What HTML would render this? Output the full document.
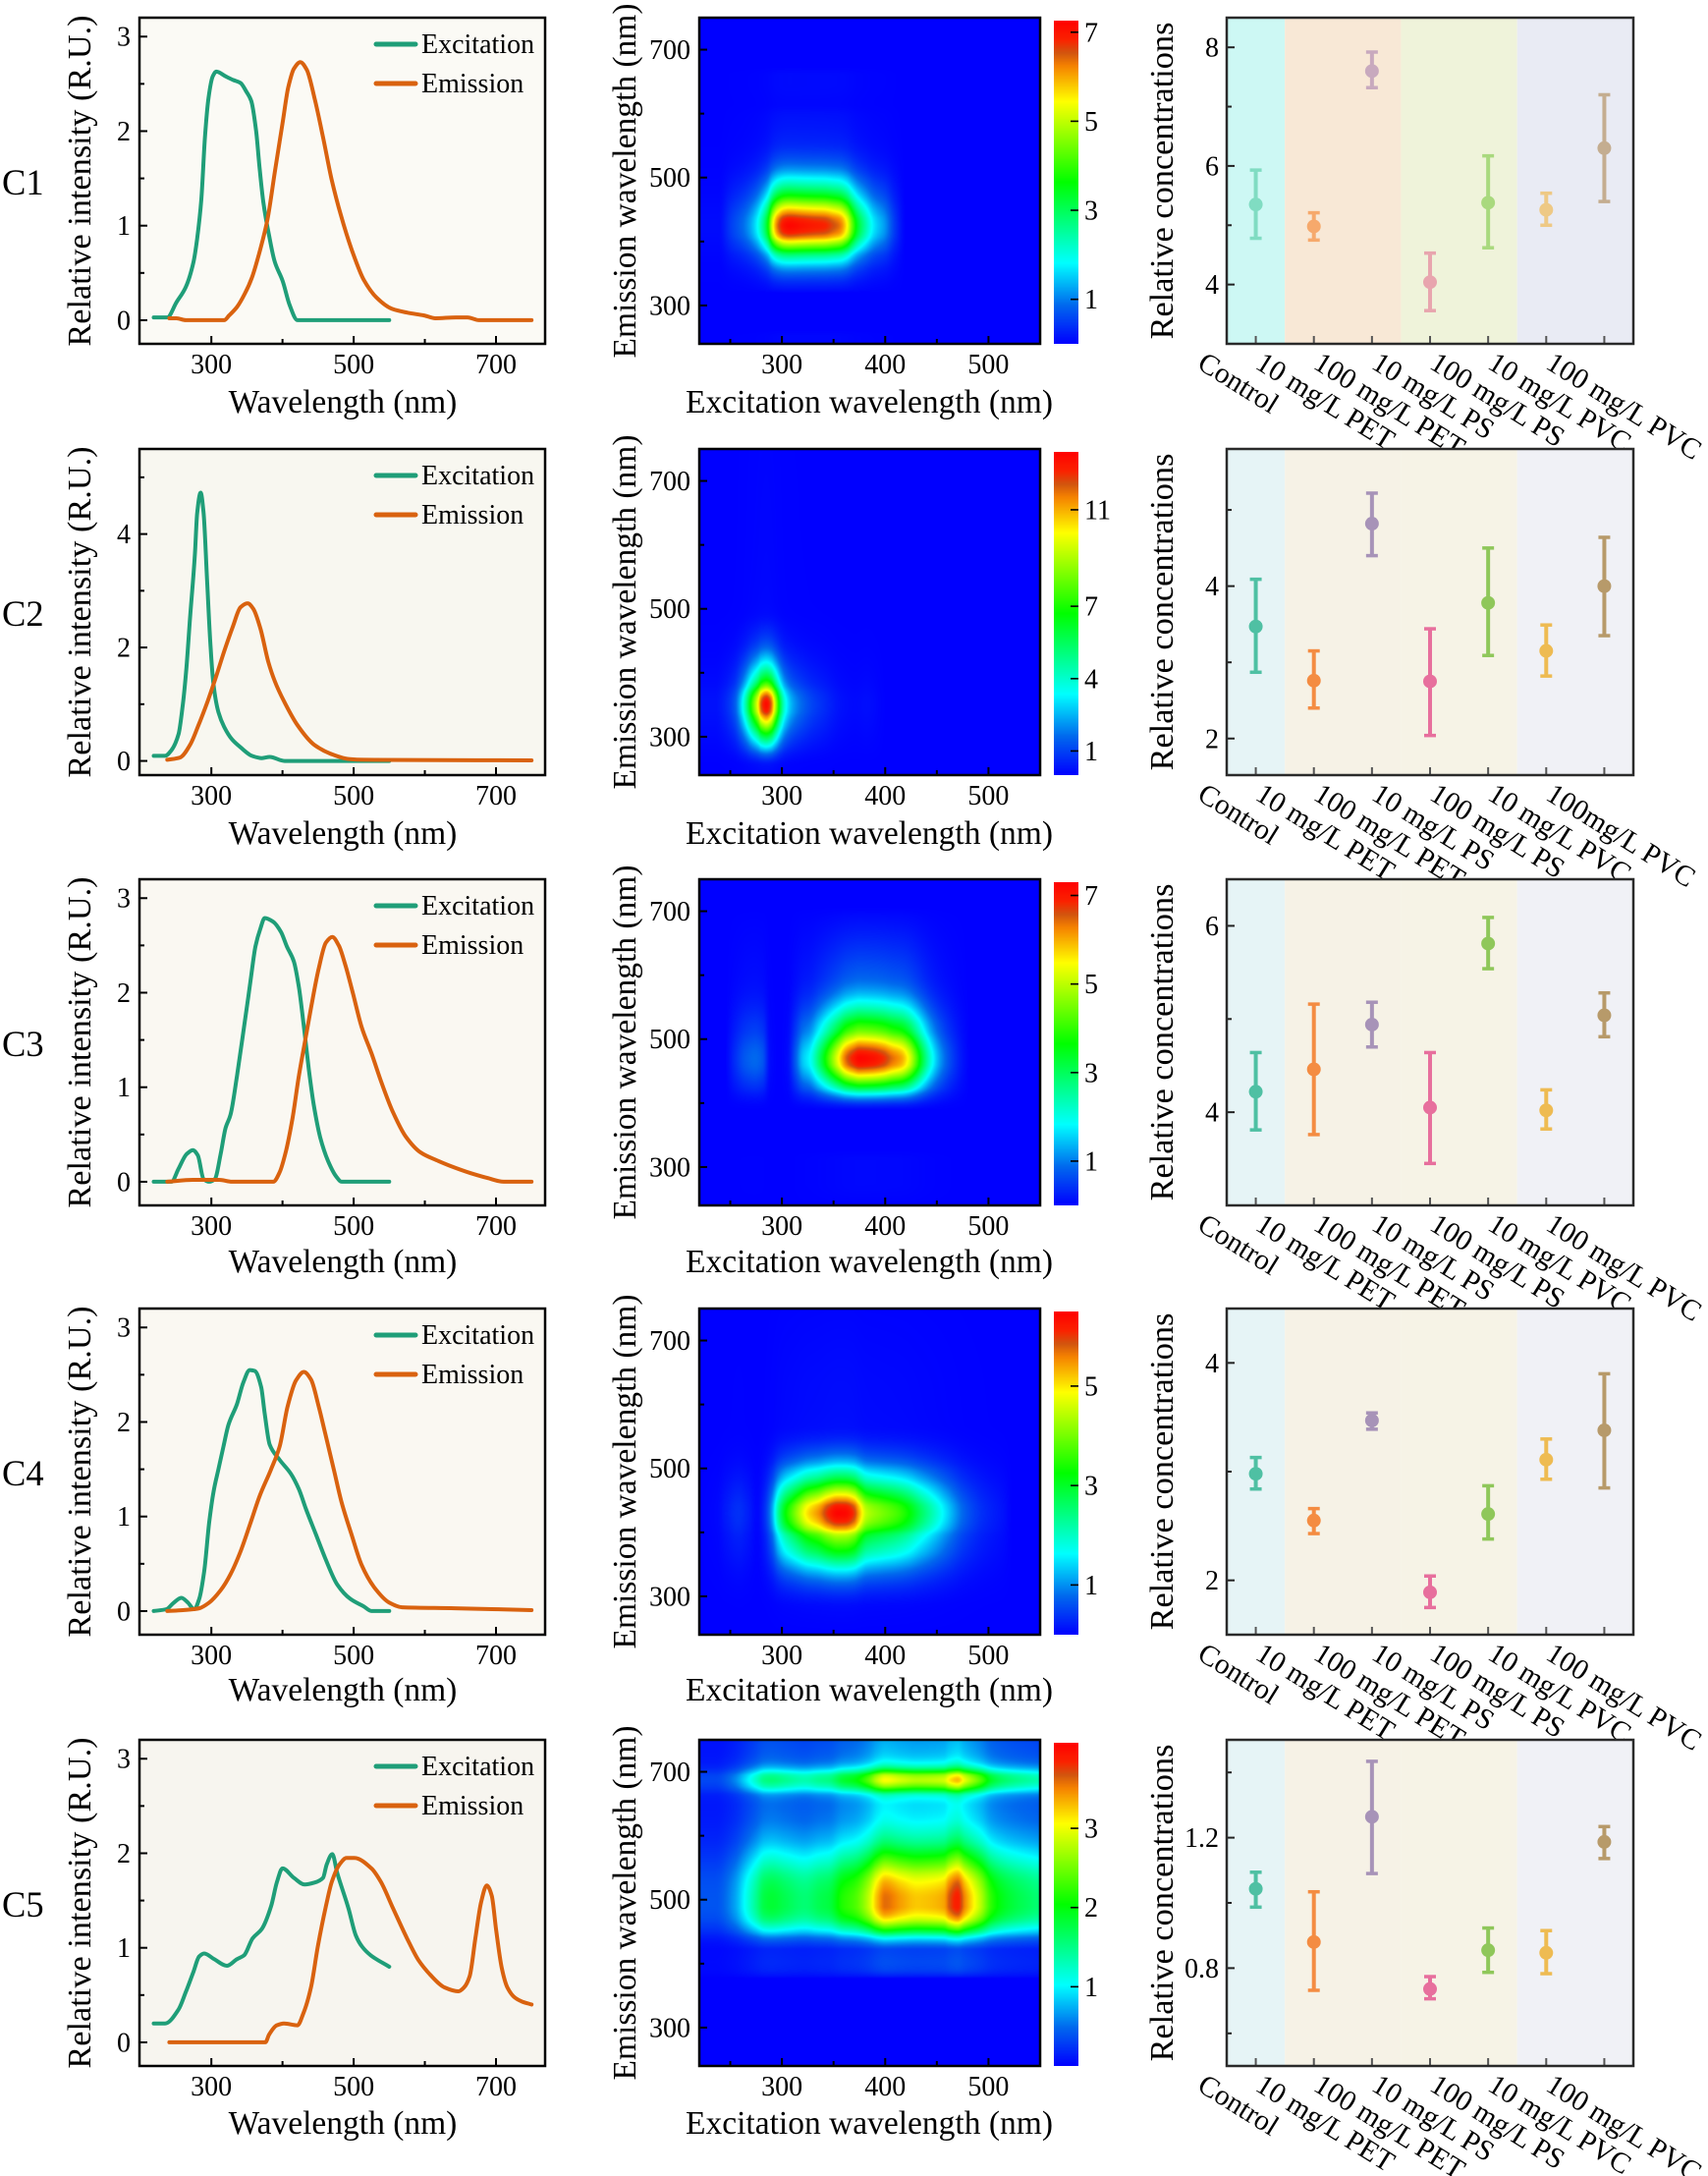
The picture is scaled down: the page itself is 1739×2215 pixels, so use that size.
<!DOCTYPE html>
<html lang="en">
<head>
<meta charset="utf-8">
<title>Fluorescence components C1 to C5</title>
<style>
html,body{margin:0;padding:0;background:#fff;}
#stage{position:relative;width:1739px;height:2215px;overflow:hidden;background:#fff;}
#stage canvas{position:absolute;display:block;}
#figure{position:absolute;left:0;top:0;}
text{font-family:"Liberation Serif",serif;fill:#000;}
.title{font-size:33.5px;}
.title-wide{font-size:34.3px;}
.legend{font-size:28px;}
.row-label{font-size:36.5px;}
.mid{text-anchor:middle;}
</style>
</head>
<body>
<div id="stage">
<svg id="figure" width="1739" height="2215" viewBox="0 0 1739 2215" xmlns="http://www.w3.org/2000/svg">
  <g id="row-c1" transform="translate(0,18)">
    <g id="marks-c1"></g>
    <text class="row-label" x="2" y="180">C1</text>
    <text class="title-wide" transform="translate(92,166) rotate(-90)" text-anchor="middle">Relative intensity (R.U.)</text>
    <text class="title mid" x="349" y="402">Wavelength (nm)</text>
    <text class="legend" x="429" y="36">Excitation</text>
    <text class="legend" x="429" y="76">Emission</text>
    <text class="title" transform="translate(647,166) rotate(-90)" text-anchor="middle">Emission wavelength (nm)</text>
    <text class="title mid" x="885" y="402">Excitation wavelength (nm)</text>
    <text class="title-wide" transform="translate(1194,166) rotate(-90)" text-anchor="middle">Relative concentrations</text>
  </g>
  <g id="row-c2" transform="translate(0,457)">
    <g id="marks-c2"></g>
    <text class="row-label" x="2" y="180">C2</text>
    <text class="title-wide" transform="translate(92,166) rotate(-90)" text-anchor="middle">Relative intensity (R.U.)</text>
    <text class="title mid" x="349" y="402">Wavelength (nm)</text>
    <text class="legend" x="429" y="36">Excitation</text>
    <text class="legend" x="429" y="76">Emission</text>
    <text class="title" transform="translate(647,166) rotate(-90)" text-anchor="middle">Emission wavelength (nm)</text>
    <text class="title mid" x="885" y="402">Excitation wavelength (nm)</text>
    <text class="title-wide" transform="translate(1194,166) rotate(-90)" text-anchor="middle">Relative concentrations</text>
  </g>
  <g id="row-c3" transform="translate(0,895)">
    <g id="marks-c3"></g>
    <text class="row-label" x="2" y="180">C3</text>
    <text class="title-wide" transform="translate(92,166) rotate(-90)" text-anchor="middle">Relative intensity (R.U.)</text>
    <text class="title mid" x="349" y="400">Wavelength (nm)</text>
    <text class="legend" x="429" y="36">Excitation</text>
    <text class="legend" x="429" y="76">Emission</text>
    <text class="title" transform="translate(647,166) rotate(-90)" text-anchor="middle">Emission wavelength (nm)</text>
    <text class="title mid" x="885" y="400">Excitation wavelength (nm)</text>
    <text class="title-wide" transform="translate(1194,166) rotate(-90)" text-anchor="middle">Relative concentrations</text>
  </g>
  <g id="row-c4" transform="translate(0,1332)">
    <g id="marks-c4"></g>
    <text class="row-label" x="2" y="180">C4</text>
    <text class="title-wide" transform="translate(92,166) rotate(-90)" text-anchor="middle">Relative intensity (R.U.)</text>
    <text class="title mid" x="349" y="399">Wavelength (nm)</text>
    <text class="legend" x="429" y="36">Excitation</text>
    <text class="legend" x="429" y="76">Emission</text>
    <text class="title" transform="translate(647,166) rotate(-90)" text-anchor="middle">Emission wavelength (nm)</text>
    <text class="title mid" x="885" y="399">Excitation wavelength (nm)</text>
    <text class="title-wide" transform="translate(1194,166) rotate(-90)" text-anchor="middle">Relative concentrations</text>
  </g>
  <g id="row-c5" transform="translate(0,1771)">
    <g id="marks-c5"></g>
    <text class="row-label" x="2" y="180">C5</text>
    <text class="title-wide" transform="translate(92,166) rotate(-90)" text-anchor="middle">Relative intensity (R.U.)</text>
    <text class="title mid" x="349" y="401">Wavelength (nm)</text>
    <text class="legend" x="429" y="36">Excitation</text>
    <text class="legend" x="429" y="76">Emission</text>
    <text class="title" transform="translate(647,166) rotate(-90)" text-anchor="middle">Emission wavelength (nm)</text>
    <text class="title mid" x="885" y="401">Excitation wavelength (nm)</text>
    <text class="title-wide" transform="translate(1194,166) rotate(-90)" text-anchor="middle">Relative concentrations</text>
  </g>
</svg>
</div>
<script>
// ---------- spectral loadings (wavelength in nm, relative intensity) ----------
const exWaveC1 = [219,238,251,264,275,280,286,291,296,302,307,320,331,341,349,356,363,368,373,381,389,400,410,421,550];
const exValueC1 = [.03,.03,.19,.35,.62,.86,1.28,1.94,2.35,2.58,2.63,2.58,2.54,2.51,2.42,2.32,2.0,1.59,1.25,.9,.62,.42,.16,0,0];
const emWaveC1 = [241,251,264,318,325,336,347,357,368,379,389,400,408,416,425,434,445,456,469,482,498,514,532,554,575,599,615,644,660,676,750];
const emValueC1 = [.02,.02,0,0,.05,.14,.28,.45,.73,1.07,1.56,2.08,2.46,2.66,2.73,2.65,2.35,1.97,1.49,1.11,.73,.43,.24,.12,.08,.05,.02,.03,.03,0,0];

const exWaveC2 = [219,235,244,254,260,265,270,277,280,285,289,294,299,303,310,318,329,341,357,371,382,403,550];
const exValueC2 = [.09,.09,.19,.48,1.0,1.64,2.5,3.66,4.36,4.73,4.39,3.2,1.99,1.35,.86,.6,.38,.24,.09,.05,.07,0,0];
const emWaveC2 = [238,256,270,281,295,306,318,330,341,351,359,369,380,389,403,421,445,467,495,514,750];
const emValueC2 = [.02,.06,.28,.6,1.06,1.46,1.93,2.36,2.71,2.78,2.68,2.33,1.75,1.41,1.03,.63,.28,.13,.03,.02,.01];

const exWaveC3 = [219,244,254,265,274,281,289,297,305,313,320,327,336,346,355,362,369,375,387,398,406,416,423,430,437,444,453,464,476,483,550];
const exValueC3 = [0,0,.14,.29,.335,.28,.03,0,.03,.29,.57,.71,1.12,1.64,2.12,2.49,2.68,2.79,2.75,2.64,2.49,2.33,2.06,1.64,1.19,.81,.47,.22,.05,0,0];
const emWaveC3 = [238,274,311,329,387,396,405,414,423,433,442,451,461,470,479,488,499,511,525,539,555,573,594,619,635,665,688,711,750];
const emValueC3 = [0,.02,.02,0,0,.10,.33,.67,1.12,1.54,1.92,2.26,2.53,2.59,2.50,2.30,1.99,1.64,1.36,1.05,.74,.48,.31,.22,.17,.09,.04,0,0];

const exWaveC4 = [219,237,246,258,267,276,283,290,297,303,310,317,324,336,345,354,361,370,375,382,396,412,423,433,447,460,477,495,514,525,550];
const exValueC4 = [0,.02,.08,.14,.09,.02,.13,.42,.94,1.26,1.5,1.74,1.97,2.19,2.42,2.55,2.54,2.37,2.09,1.76,1.6,1.45,1.29,1.08,.81,.56,.28,.13,.05,0,0];
const emWaveC4 = [238,260,283,297,313,327,341,354,368,384,396,407,419,430,440,451,460,472,483,497,511,529,550,568,642,750];
const emValueC4 = [0,.01,.03,.09,.22,.39,.63,.91,1.22,1.5,1.74,2.16,2.44,2.53,2.45,2.16,1.88,1.5,1.15,.81,.49,.25,.09,.04,.03,.01];

const exWaveC5 = [219,235,254,264,275,283,290,304,322,336,346,358,371,384,392,400,416,431,445,457,462,470,477,493,503,512,524,550];
const exValueC5 = [.2,.2,.35,.53,.75,.91,.94,.88,.81,.88,.92,1.1,1.2,1.44,1.69,1.84,1.74,1.67,1.69,1.74,1.88,1.99,1.79,1.41,1.13,1.01,.92,.8];
const emWaveC5 = [241,376,381,392,402,421,429,440,450,461,469,480,490,501,525,538,554,575,591,607,628,647,655,663,671,679,687,694,700,708,716,727,737,750];
const emValueC5 = [0,0,.08,.18,.2,.18,.3,.58,1.03,1.44,1.69,1.88,1.95,1.95,1.84,1.70,1.44,1.1,.87,.72,.58,.54,.58,.7,1.1,1.48,1.66,1.55,1.2,.79,.58,.47,.43,.4];

// ---------- axis tick labels ----------
const wavelengthTicks = [300,500,700];
const wavelengthMinorTicks = [400,600];
const excitationTicks = [300,400,500];
const excitationMinorTicks = [250,350,450];
const emissionTicks = [300,500,700];
const emissionMinorTicks = [400,600];
const intensityTicksC1 = [0,1,2,3];
const intensityMinorC1 = [.5,1.5,2.5];
const intensityTicksC2 = [0,2,4];
const intensityMinorC2 = [1,3,5];
const colorbarTicksC1 = [1,3,5,7];
const colorbarTicksC2 = [1,4,7,11];
const colorbarTicksC3 = [1,3,5,7];
const colorbarTicksC4 = [1,3,5];
const colorbarTicksC5 = [1,2,3];
const concTicksC1 = [4,6,8];
const concMinorC1 = [5,7];
const concTicksC2 = [2,4];
const concMinorC2 = [3,5];
const concTicksC3 = [4,6];
const concMinorC3 = [5];
const concTicksC4 = [2,4];
const concMinorC4 = [3];
const concTicksC5 = [.8,1.2];
const concMinorC5 = [.6,1.0,1.4];

// ---------- categories and concentrations ----------
const categories = ["Control","10 mg/L PET","100 mg/L PET","10 mg/L PS","100 mg/L PS","10 mg/L PVC","100 mg/L PVC"];
const categoriesC2 = ["Control","10 mg/L PET","100 mg/L PET","10 mg/L PS","100 mg/L PS","10 mg/L PVC","100mg/L PVC"];
const concMeanC1 = [5.35,4.98,7.6,4.04,5.38,5.26,6.3];
const concUpperC1 = [5.93,5.21,7.92,4.53,6.17,5.54,7.2];
const concLowerC1 = [4.78,4.75,7.32,3.56,4.62,5.0,5.4];
const concMeanC2 = [3.47,2.76,4.82,2.75,3.78,3.15,4.0];
const concUpperC2 = [4.09,3.15,5.22,3.44,4.5,3.49,4.64];
const concLowerC2 = [2.87,2.40,4.40,2.04,3.09,2.82,3.35];
const concMeanC3 = [4.22,4.46,4.94,4.05,5.81,4.02,5.04];
const concUpperC3 = [4.64,5.16,5.18,4.64,6.09,4.24,5.28];
const concLowerC3 = [3.81,3.76,4.70,3.45,5.54,3.82,4.81];
const concMeanC4 = [2.98,2.55,3.47,1.89,2.61,3.11,3.38];
const concUpperC4 = [3.13,2.66,3.54,2.04,2.87,3.30,3.90];
const concLowerC4 = [2.84,2.43,3.39,1.75,2.38,2.93,2.85];
const concMeanC5 = [1.043,.88,1.264,.736,.855,.847,1.187];
const concUpperC5 = [1.094,1.034,1.434,.774,.923,.915,1.234];
const concLowerC5 = [.987,.732,1.09,.706,.787,.783,1.136];

// ---------- layout and styling ----------
const NS = 'http://www.w3.org/2000/svg';
const H = 332;
const SP = {l:142, r:555, xd:[199,769]};
const HM = {l:712, r:1059, xd:[220,550], yd:[240,750]};
const CB = {l:1073, r:1098, t:3};
const CN = {l:1249, r:1663, xd:[-.5,6.5]};
const EX_COLOR = '#1f9e78';
const EM_COLOR = '#d9620f';
const paletteFaded = ['#80dcc2','#f6a96c','#c8a9be','#e8a5ae','#a9d97e','#eec985','#c4ad90'];
const paletteStrong = ['#4fc0a3','#f48c42','#a793b8','#e76f9d','#8fc75a','#eebb52','#b79a6a'];
const bandsFaded = ['#cdf8f4','#f8e8d6','#eff3da','#e9ebf4'];
const bandsStrong = ['#e6f4f6','#f6f2e6','#f6f3e6','#f0f1f6'];
const bandEdges = [-.5,.5,2.5,4.5,6.5];

function linear(d, r) {
  return function (v) { return r[0] + (v - d[0]) * (r[1] - r[0]) / (d[1] - d[0]); };
}
// monotone cubic tangents so the curve passes through every read value without overshoot
function tangents(xs, ys) {
  const n = xs.length, s = [], m = [];
  for (let i = 0; i < n - 1; i++) s.push((ys[i+1] - ys[i]) / (xs[i+1] - xs[i]));
  m.push(s[0]);
  for (let i = 1; i < n - 1; i++) {
    if (s[i-1] * s[i] <= 0) { m.push(0); continue; }
    const w1 = 2 * (xs[i+1] - xs[i]) + (xs[i] - xs[i-1]);
    const w2 = (xs[i+1] - xs[i]) + 2 * (xs[i] - xs[i-1]);
    m.push((w1 + w2) / (w1 / s[i-1] + w2 / s[i]));
  }
  m.push(s[n-2]);
  return m;
}
function curveFn(xs, ys) {
  const m = tangents(xs, ys);
  return function (x) {
    if (x <= xs[0]) return ys[0];
    if (x >= xs[xs.length-1]) return ys[ys.length-1];
    let i = 1;
    while (x > xs[i]) i++;
    const h = xs[i] - xs[i-1], t = (x - xs[i-1]) / h, t2 = t * t, t3 = t2 * t;
    return (2*t3 - 3*t2 + 1) * ys[i-1] + (t3 - 2*t2 + t) * h * m[i-1] + (-2*t3 + 3*t2) * ys[i] + (t3 - t2) * h * m[i];
  };
}
function curvePath(xs, ys, x, y) {
  const m = tangents(xs, ys);
  let d = 'M' + x(xs[0]).toFixed(1) + ' ' + y(ys[0]).toFixed(1);
  for (let i = 1; i < xs.length; i++) {
    const h = (xs[i] - xs[i-1]) / 3;
    d += 'C' + x(xs[i-1] + h).toFixed(1) + ' ' + y(ys[i-1] + m[i-1] * h).toFixed(1) + ' ' +
         x(xs[i] - h).toFixed(1) + ' ' + y(ys[i] - m[i] * h).toFixed(1) + ' ' +
         x(xs[i]).toFixed(1) + ' ' + y(ys[i]).toFixed(1);
  }
  return d;
}
function shape(tag, parent, attrs) {
  const el = document.createElementNS(NS, tag);
  for (const k in attrs) el.setAttribute(k, attrs[k]);
  parent.appendChild(el);
  return el;
}
function addTick(parent, x1, y1, x2, y2, color, width) {
  const el = shape('line', parent, {x1:x1, y1:y1, x2:x2, y2:y2, stroke:color, 'stroke-width':width});
  
  
  return el;
}
function addLabel(parent, x, y, str, anchor, size) {
  const el = shape('text', parent, {x:x, y:y, 'text-anchor':anchor, 'font-size':size});
  el.textContent = str;
  
  
  return el;
}
function addFrame(parent, x, w, color, name) {
  const el = shape('rect', parent, {x:x, y:0, width:w, height:H, fill:'none', stroke:color, 'stroke-width':2.5});
  
  
  return el;
}
function colormap(t) {
  const s = [[0,0,0,255],[.12,0,105,238],[.25,0,255,255],[.5,0,255,0],[.75,255,255,0],[.86,245,130,0],[.9,210,85,15],[.94,250,35,0],[1,255,0,0]];
  t = Math.max(0, Math.min(1, t));
  for (let i = 1; i < s.length; i++) {
    if (t <= s[i][0]) {
      const f = (t - s[i-1][0]) / (s[i][0] - s[i-1][0]);
      return [0,1,2].map(function (c) { return s[i-1][c+1] + f * (s[i][c+1] - s[i-1][c+1]); });
    }
  }
  return [255,0,0];
}

function drawSpectrum(g, exW, exV, emW, emV, yd, ticks, minor, bg) {
  const x = linear(SP.xd, [SP.l, SP.r]);
  const y = linear(yd, [H, 0]);
  const panel = shape('rect', g, {x:SP.l, y:0, width:SP.r-SP.l, height:H, fill:bg});
  
  
  wavelengthTicks.forEach(function (v) {
    addTick(g, x(v), H, x(v), H-8, '#000', 2);
    addLabel(g, x(v), H+30, String(v), 'middle', 28);
  });
  wavelengthMinorTicks.forEach(function (v) { addTick(g, x(v), H, x(v), H-5, '#000', 2); });
  ticks.forEach(function (v) {
    addTick(g, SP.l, y(v), SP.l+8, y(v), '#000', 2);
    addLabel(g, 133, y(v)+9.5, String(v), 'end', 28);
  });
  minor.forEach(function (v) { addTick(g, SP.l, y(v), SP.l+5, y(v), '#000', 2); });
  const ex = shape('path', g, {d:curvePath(exW, exV, x, y), fill:'none', stroke:EX_COLOR, 'stroke-width':4, 'stroke-linejoin':'round', 'stroke-linecap':'round'});
  
  
  const em = shape('path', g, {d:curvePath(emW, emV, x, y), fill:'none', stroke:EM_COLOR, 'stroke-width':4, 'stroke-linejoin':'round', 'stroke-linecap':'round'});
  
  
  const k1 = shape('line', g, {x1:383, x2:423, y1:27, y2:27, stroke:EX_COLOR, 'stroke-width':5, 'stroke-linecap':'round'});
  
  
  const k2 = shape('line', g, {x1:383, x2:423, y1:67, y2:67, stroke:EM_COLOR, 'stroke-width':5, 'stroke-linecap':'round'});
  
  
  addFrame(g, SP.l, SP.r-SP.l, '#000', 'spectrum-frame');
}

function drawHeatmap(g, top, exW, exV, emW, emV, vmax, cbTicks) {
  const stage = document.getElementById('stage');
  const w = HM.r - HM.l;
  const cv = document.createElement('canvas');
  cv.width = w; cv.height = H;
  cv.style.left = HM.l + 'px'; cv.style.top = top + 'px';
  
  
  stage.insertBefore(cv, stage.firstChild);
  const ctx = cv.getContext('2d');
  const img = ctx.createImageData(w, H);
  const xInv = linear([HM.l, HM.r], HM.xd);
  const yInv = linear([H, 0], HM.yd);
  const exFn = curveFn(exW, exV), emFn = curveFn(emW, emV);
  const exCol = [], emRow = [];
  for (let i = 0; i < w; i++) exCol.push(exFn(xInv(HM.l + i + .5)));
  for (let j = 0; j < H; j++) emRow.push(emFn(yInv(j + .5)));
  for (let j = 0; j < H; j++) {
    for (let i = 0; i < w; i++) {
      const c = colormap(exCol[i] * emRow[j] / vmax);
      const p = (j * w + i) * 4;
      img.data[p] = c[0]; img.data[p+1] = c[1]; img.data[p+2] = c[2]; img.data[p+3] = 255;
    }
  }
  ctx.putImageData(img, 0, 0);

  const x = linear(HM.xd, [HM.l, HM.r]);
  const y = linear(HM.yd, [H, 0]);
  excitationTicks.forEach(function (v) {
    addTick(g, x(v), H, x(v), H-8, '#000', 2);
    addLabel(g, x(v), H+30, String(v), 'middle', 28);
  });
  excitationMinorTicks.forEach(function (v) { addTick(g, x(v), H, x(v), H-5, '#000', 2); });
  emissionTicks.forEach(function (v) {
    addTick(g, HM.l, y(v), HM.l+8, y(v), '#000', 2);
    addLabel(g, 703, y(v)+9.5, String(v), 'end', 28);
  });
  emissionMinorTicks.forEach(function (v) { addTick(g, HM.l, y(v), HM.l+5, y(v), '#000', 2); });
  addFrame(g, HM.l, w, '#000', 'heatmap-frame');

  const cb = document.createElement('canvas');
  const bw = CB.r - CB.l, bh = H - CB.t;
  cb.width = bw; cb.height = bh;
  cb.style.left = CB.l + 'px'; cb.style.top = (top + CB.t) + 'px';
  
  
  stage.insertBefore(cb, stage.firstChild);
  const cc = cb.getContext('2d');
  for (let j = 0; j < bh; j++) {
    const c = colormap(1 - (j + .5) / bh);
    cc.fillStyle = 'rgb(' + c.map(Math.round).join(',') + ')';
    cc.fillRect(0, j, bw, 1);
  }
  const yb = linear([0, vmax], [H, CB.t]);
  cbTicks.forEach(function (v) {
    addTick(g, CB.r-8, yb(v), CB.r, yb(v), '#000', 1.6);
    addLabel(g, 1104, yb(v)+9.5, String(v), 'start', 28);
  });
}

function drawConcentrations(g, cats, mean, upper, lower, yd, ticks, minor, palette, bands) {
  const x = linear(CN.xd, [CN.l, CN.r]);
  const y = linear(yd, [H, 0]);
  bands.forEach(function (c, i) {
    const b = shape('rect', g, {x:x(bandEdges[i]), y:0, width:x(bandEdges[i+1])-x(bandEdges[i]), height:H, fill:c});
    
    
  });
  cats.forEach(function (name, i) {
    addTick(g, x(i), H, x(i), H-8, '#555', 2);
    const label = shape('text', g, {'font-size':29.5, transform:'translate(' + (x(i)-61) + ',' + (H+24) + ') rotate(32)'});
    label.textContent = name;
    
    
  });
  ticks.forEach(function (v) {
    addTick(g, CN.l, y(v), CN.l+8, y(v), '#222', 2);
    addLabel(g, 1241, y(v)+9.5, String(v), 'end', 28);
  });
  minor.forEach(function (v) { addTick(g, CN.l, y(v), CN.l+5, y(v), '#222', 2); });
  mean.forEach(function (m, i) {
    const cx = x(i);
    const bar = shape('line', g, {x1:cx, x2:cx, y1:y(upper[i]), y2:y(lower[i]), stroke:palette[i], 'stroke-width':4});
    
    
    const capU = shape('line', g, {x1:cx-6, x2:cx+6, y1:y(upper[i]), y2:y(upper[i]), stroke:palette[i], 'stroke-width':3.5});
    
    
    const capL = shape('line', g, {x1:cx-6, x2:cx+6, y1:y(lower[i]), y2:y(lower[i]), stroke:palette[i], 'stroke-width':3.5});
    
    
    const pt = shape('circle', g, {cx:cx, cy:y(m), r:7, fill:palette[i]});
    
    
  });
  addFrame(g, CN.l, CN.r-CN.l, '#2a2a2a', 'concentration-frame');
}

function drawRow(id, top, bg, s, h, c) {
  const g = document.getElementById('marks-' + id);
  drawSpectrum(g, s.exW, s.exV, s.emW, s.emV, s.yd, s.ticks, s.minor, bg);
  drawHeatmap(g, top, s.exW, s.exV, s.emW, s.emV, h.vmax, h.ticks);
  drawConcentrations(g, c.cats, c.mean, c.upper, c.lower, c.yd, c.ticks, c.minor, c.palette, c.bands);
}

drawRow('c1', 18, '#fbfaf5',
  {exW:exWaveC1, exV:exValueC1, emW:emWaveC1, emV:emValueC1, yd:[-.25,3.2], ticks:intensityTicksC1, minor:intensityMinorC1},
  {vmax:7.26, ticks:colorbarTicksC1},
  {cats:categories, mean:concMeanC1, upper:concUpperC1, lower:concLowerC1, yd:[3,8.5], ticks:concTicksC1, minor:concMinorC1, palette:paletteFaded, bands:bandsFaded});
drawRow('c2', 457, '#f8f7f0',
  {exW:exWaveC2, exV:exValueC2, emW:emWaveC2, emV:emValueC2, yd:[-.25,5.5], ticks:intensityTicksC2, minor:intensityMinorC2},
  {vmax:13.4, ticks:colorbarTicksC2},
  {cats:categoriesC2, mean:concMeanC2, upper:concUpperC2, lower:concLowerC2, yd:[1.52,5.8], ticks:concTicksC2, minor:concMinorC2, palette:paletteStrong, bands:bandsStrong});
drawRow('c3', 895, '#faf8f2',
  {exW:exWaveC3, exV:exValueC3, emW:emWaveC3, emV:emValueC3, yd:[-.25,3.2], ticks:intensityTicksC1, minor:intensityMinorC1},
  {vmax:7.3, ticks:colorbarTicksC3},
  {cats:categories, mean:concMeanC3, upper:concUpperC3, lower:concLowerC3, yd:[3,6.5], ticks:concTicksC3, minor:concMinorC3, palette:paletteStrong, bands:bandsStrong});
drawRow('c4', 1332, '#faf8f2',
  {exW:exWaveC4, exV:exValueC4, emW:emWaveC4, emV:emValueC4, yd:[-.25,3.2], ticks:intensityTicksC1, minor:intensityMinorC1},
  {vmax:6.5, ticks:colorbarTicksC4},
  {cats:categories, mean:concMeanC4, upper:concUpperC4, lower:concLowerC4, yd:[1.5,4.5], ticks:concTicksC4, minor:concMinorC4, palette:paletteStrong, bands:bandsStrong});
drawRow('c5', 1771, '#f7f5ef',
  {exW:exWaveC5, exV:exValueC5, emW:emWaveC5, emV:emValueC5, yd:[-.25,3.2], ticks:intensityTicksC1, minor:intensityMinorC1},
  {vmax:4.08, ticks:colorbarTicksC5},
  {cats:categories, mean:concMeanC5, upper:concUpperC5, lower:concLowerC5, yd:[.5,1.5], ticks:concTicksC5, minor:concMinorC5, palette:paletteStrong, bands:bandsStrong});
</script>
</body>
</html>
